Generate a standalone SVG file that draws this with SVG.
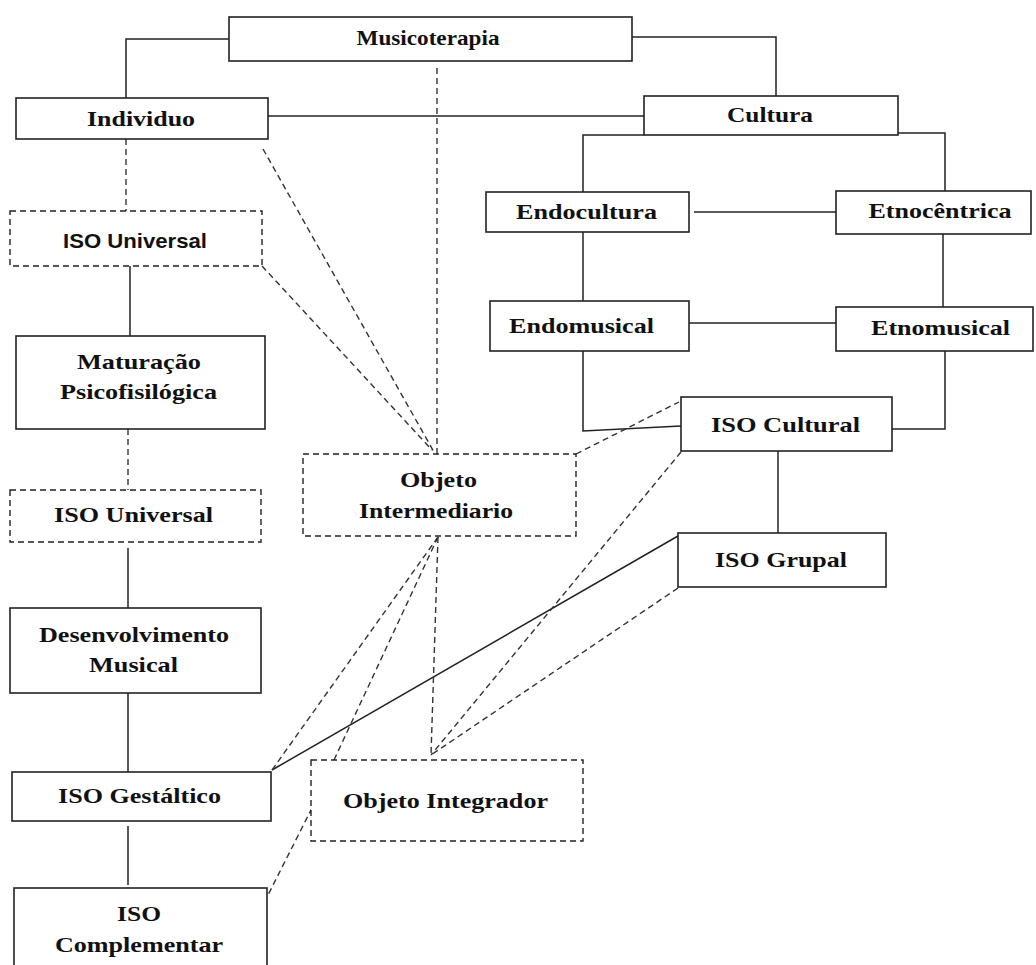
<svg xmlns="http://www.w3.org/2000/svg" width="1036" height="965" viewBox="0 0 1036 965">
<style>
.box{fill:#fff;stroke:#222;stroke-width:1.6}
.dbox{fill:#fff;stroke:#222;stroke-width:1.4;stroke-dasharray:6 4}
.ln{fill:none;stroke:#222;stroke-width:1.5}
.dl{fill:none;stroke:#333;stroke-width:1.4;stroke-dasharray:6 4}
text{font-family:"Liberation Serif","Times New Roman",serif;font-weight:bold;font-size:22px;fill:#111;text-anchor:middle}
.sans{font-family:"Liberation Sans",Arial,sans-serif;font-size:21px}
</style>
<rect width="1036" height="965" fill="#fff"/>
<g id="connectors">
<polyline class="ln" points="229,39 126,39 126,98"/>
<polyline class="ln" points="632,37 776,37 776,96"/>
<line class="ln" x1="268" y1="116" x2="644" y2="116"/>
<polyline class="ln" points="644,135 583,135 583,192"/>
<polyline class="ln" points="898,133 945,133 945,191"/>
<line class="ln" x1="694" y1="212" x2="836" y2="212"/>
<line class="ln" x1="583" y1="232" x2="583" y2="301"/>
<line class="ln" x1="943" y1="234" x2="943" y2="307"/>
<line class="ln" x1="689" y1="323" x2="836" y2="323"/>
<polyline class="ln" points="583,351 583,431 681,426"/>
<polyline class="ln" points="945,351 945,429 892,429"/>
<line class="ln" x1="778" y1="451" x2="778" y2="533"/>
<line class="ln" x1="130" y1="266" x2="130" y2="336"/>
<line class="ln" x1="128" y1="548" x2="128" y2="608"/>
<line class="ln" x1="128" y1="693" x2="128" y2="772"/>
<line class="ln" x1="128" y1="826" x2="128" y2="885"/>
<line class="ln" x1="272" y1="770" x2="678" y2="536"/>
<line class="dl" x1="126" y1="139" x2="126" y2="211"/>
<line class="dl" x1="128" y1="429" x2="128" y2="490"/>
<line class="dl" x1="437" y1="68" x2="437" y2="454"/>
<line class="dl" x1="263" y1="149" x2="434" y2="452"/>
<line class="dl" x1="262" y1="266" x2="432" y2="450"/>
<line class="dl" x1="576" y1="454" x2="679" y2="402"/>
<line class="dl" x1="438" y1="537" x2="272" y2="770"/>
<line class="dl" x1="438" y1="537" x2="334" y2="760"/>
<line class="dl" x1="438" y1="537" x2="431" y2="755"/>
<line class="dl" x1="681" y1="452" x2="431" y2="755"/>
<line class="dl" x1="678" y1="588" x2="431" y2="755"/>
<line class="dl" x1="312" y1="808" x2="267" y2="897"/>
</g>
<g id="musicoterapia"><rect class="box" x="229" y="17" width="403" height="44"/><text x="428" y="45" textLength="143" lengthAdjust="spacingAndGlyphs">Musicoterapia</text></g>
<g id="individuo"><rect class="box" x="16" y="98" width="252" height="41"/><text x="141" y="126" textLength="108" lengthAdjust="spacingAndGlyphs">Individuo</text></g>
<g id="cultura"><rect class="box" x="644" y="96" width="254" height="39"/><text x="770" y="122" textLength="86" lengthAdjust="spacingAndGlyphs">Cultura</text></g>
<g id="endocultura"><rect class="box" x="486" y="192" width="203" height="40"/><text x="586.5" y="219" textLength="141" lengthAdjust="spacingAndGlyphs">Endocultura</text></g>
<g id="etnocentrica"><rect class="box" x="836" y="191" width="195" height="43"/><text x="940" y="218" textLength="143" lengthAdjust="spacingAndGlyphs">Etnocêntrica</text></g>
<g id="endomusical"><rect class="box" x="490" y="301" width="199" height="50"/><text x="581.5" y="333" textLength="145" lengthAdjust="spacingAndGlyphs">Endomusical</text></g>
<g id="etnomusical"><rect class="box" x="836" y="307" width="197" height="44"/><text x="940.5" y="335" textLength="139" lengthAdjust="spacingAndGlyphs">Etnomusical</text></g>
<g id="iso-cultural"><rect class="box" x="681" y="397" width="211" height="54"/><text x="785.5" y="432" textLength="149" lengthAdjust="spacingAndGlyphs">ISO Cultural</text></g>
<g id="iso-grupal"><rect class="box" x="678" y="533" width="208" height="54"/><text x="781" y="567" textLength="132" lengthAdjust="spacingAndGlyphs">ISO Grupal</text></g>
<g id="iso-universal-1"><rect class="dbox" x="10" y="211" width="252" height="55"/><text class="sans" x="135" y="248" textLength="144" lengthAdjust="spacingAndGlyphs">ISO Universal</text></g>
<g id="maturacao"><rect class="box" x="16" y="336" width="249" height="93"/><text x="139" y="369" textLength="124" lengthAdjust="spacingAndGlyphs">Maturação</text><text x="138.5" y="399" textLength="157" lengthAdjust="spacingAndGlyphs">Psicofisilógica</text></g>
<g id="iso-universal-2"><rect class="dbox" x="10" y="490" width="251" height="52"/><text x="133.5" y="522" textLength="159" lengthAdjust="spacingAndGlyphs">ISO Universal</text></g>
<g id="objeto-intermediario"><rect class="dbox" x="303" y="454" width="273" height="82"/><text x="438.5" y="487" textLength="77" lengthAdjust="spacingAndGlyphs">Objeto</text><text x="436" y="518" textLength="154" lengthAdjust="spacingAndGlyphs">Intermediario</text></g>
<g id="desenvolvimento"><rect class="box" x="10" y="608" width="251" height="85"/><text x="134" y="642" textLength="190" lengthAdjust="spacingAndGlyphs">Desenvolvimento</text><text x="133.5" y="672" textLength="89" lengthAdjust="spacingAndGlyphs">Musical</text></g>
<g id="iso-gestaltico"><rect class="box" x="12" y="772" width="259" height="49"/><text x="139.5" y="803" textLength="163" lengthAdjust="spacingAndGlyphs">ISO Gestáltico</text></g>
<g id="objeto-integrador"><rect class="dbox" x="311" y="760" width="272" height="81"/><text x="445.5" y="808" textLength="205" lengthAdjust="spacingAndGlyphs">Objeto Integrador</text></g>
<g id="iso-complementar"><rect class="box" x="14" y="888" width="253" height="90"/><text x="139" y="921" textLength="44" lengthAdjust="spacingAndGlyphs">ISO</text><text x="139" y="952" textLength="168" lengthAdjust="spacingAndGlyphs">Complementar</text></g>
</svg>
